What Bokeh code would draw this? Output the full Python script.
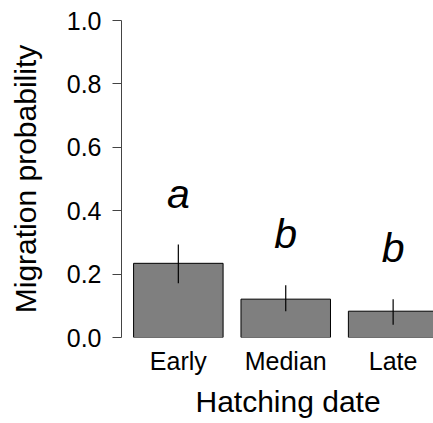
from bokeh.plotting import figure
from bokeh.models import Range1d, FixedTicker, Title, ColumnDataSource
from bokeh.core.properties import value
from bokeh.embed import file_html
from bokeh.resources import INLINE

# ---- data ----
categories = ["Early", "Median", "Late"]
probability = [0.234, 0.121, 0.083]
lower = [0.171, 0.083, 0.040]
upper = [0.293, 0.165, 0.121]
letters = ["a", "b", "b"]
y_ticks = [0.0, 0.2, 0.4, 0.6, 0.8, 1.0]
y_tick_labels = ["0.0", "0.2", "0.4", "0.6", "0.8", "1.0"]
x_title = "Hatching date"
y_title = "Migration probability"

# bar positions (R barplot style: width 1, space 0.2)
x_pos = [0.7 + 1.2 * i for i in range(len(categories))]
letter_y = [u + 0.16 for u in upper]

FONT = "Liberation Sans"

src = ColumnDataSource(dict(x=x_pos, top=probability, lo=lower, hi=upper,
                            ly=letter_y, txt=letters))

p = figure(width=433, height=423,
           x_range=Range1d(0.065, 3.551), y_range=Range1d(0, 1.0),
           output_backend="svg", toolbar_location=None,
           min_border_left=121, min_border_right=0,
           min_border_top=20, min_border_bottom=10)

p.vbar(x="x", top="top", bottom=0, width=1.0, source=src,
       fill_color="#7f7f7f", line_color="black", line_width=1)
p.segment(x0="x", x1="x", y0="lo", y1="hi", source=src,
          line_color="black", line_width=1.2)
p.text(x="x", y="ly", text="txt", source=src,
       text_font=value(FONT), text_font_style="italic",
       text_font_size="41px", text_align="center",
       text_baseline="alphabetic", text_color="black")

# styling
p.grid.visible = False
p.outline_line_color = None
p.background_fill_color = "white"
p.border_fill_color = "white"

# x axis
xa = p.xaxis[0]
xa.ticker = FixedTicker(ticks=x_pos)
xa.major_label_overrides = {x: c for x, c in zip(x_pos, categories)}
xa.axis_line_color = None
xa.major_tick_line_color = None
xa.minor_tick_line_color = None
xa.major_tick_out = 0
xa.major_tick_in = 0
xa.major_label_standoff = 9
xa.major_label_text_font = FONT
xa.major_label_text_font_size = "25px"
xa.major_label_text_color = "black"

# y axis
ya = p.yaxis[0]
ya.ticker = FixedTicker(ticks=y_ticks)
ya.major_label_overrides = {t: l for t, l in zip(y_ticks, y_tick_labels)}
ya.axis_line_color = "#444444"
ya.axis_line_width = 1
ya.major_tick_line_color = "#444444"
ya.major_tick_out = 9
ya.major_tick_in = 0
ya.minor_tick_line_color = None
ya.major_label_standoff = 11
ya.major_label_text_font = FONT
ya.major_label_text_font_size = "25px"
ya.major_label_text_color = "black"
ya.axis_label = y_title
ya.axis_label_text_font = FONT
ya.axis_label_text_font_size = "30px"
ya.axis_label_text_font_style = "normal"
ya.axis_label_text_color = "black"
ya.axis_label_standoff = 22

# x title, placed to sit under the middle category as in the reference
p.add_layout(Title(text=x_title, align="left", offset=74,
                   text_font=FONT, text_font_size="30px",
                   text_font_style="normal", text_color="black",
                   standoff=11), "below")

open("out.html", "w").write(file_html(p, INLINE))
